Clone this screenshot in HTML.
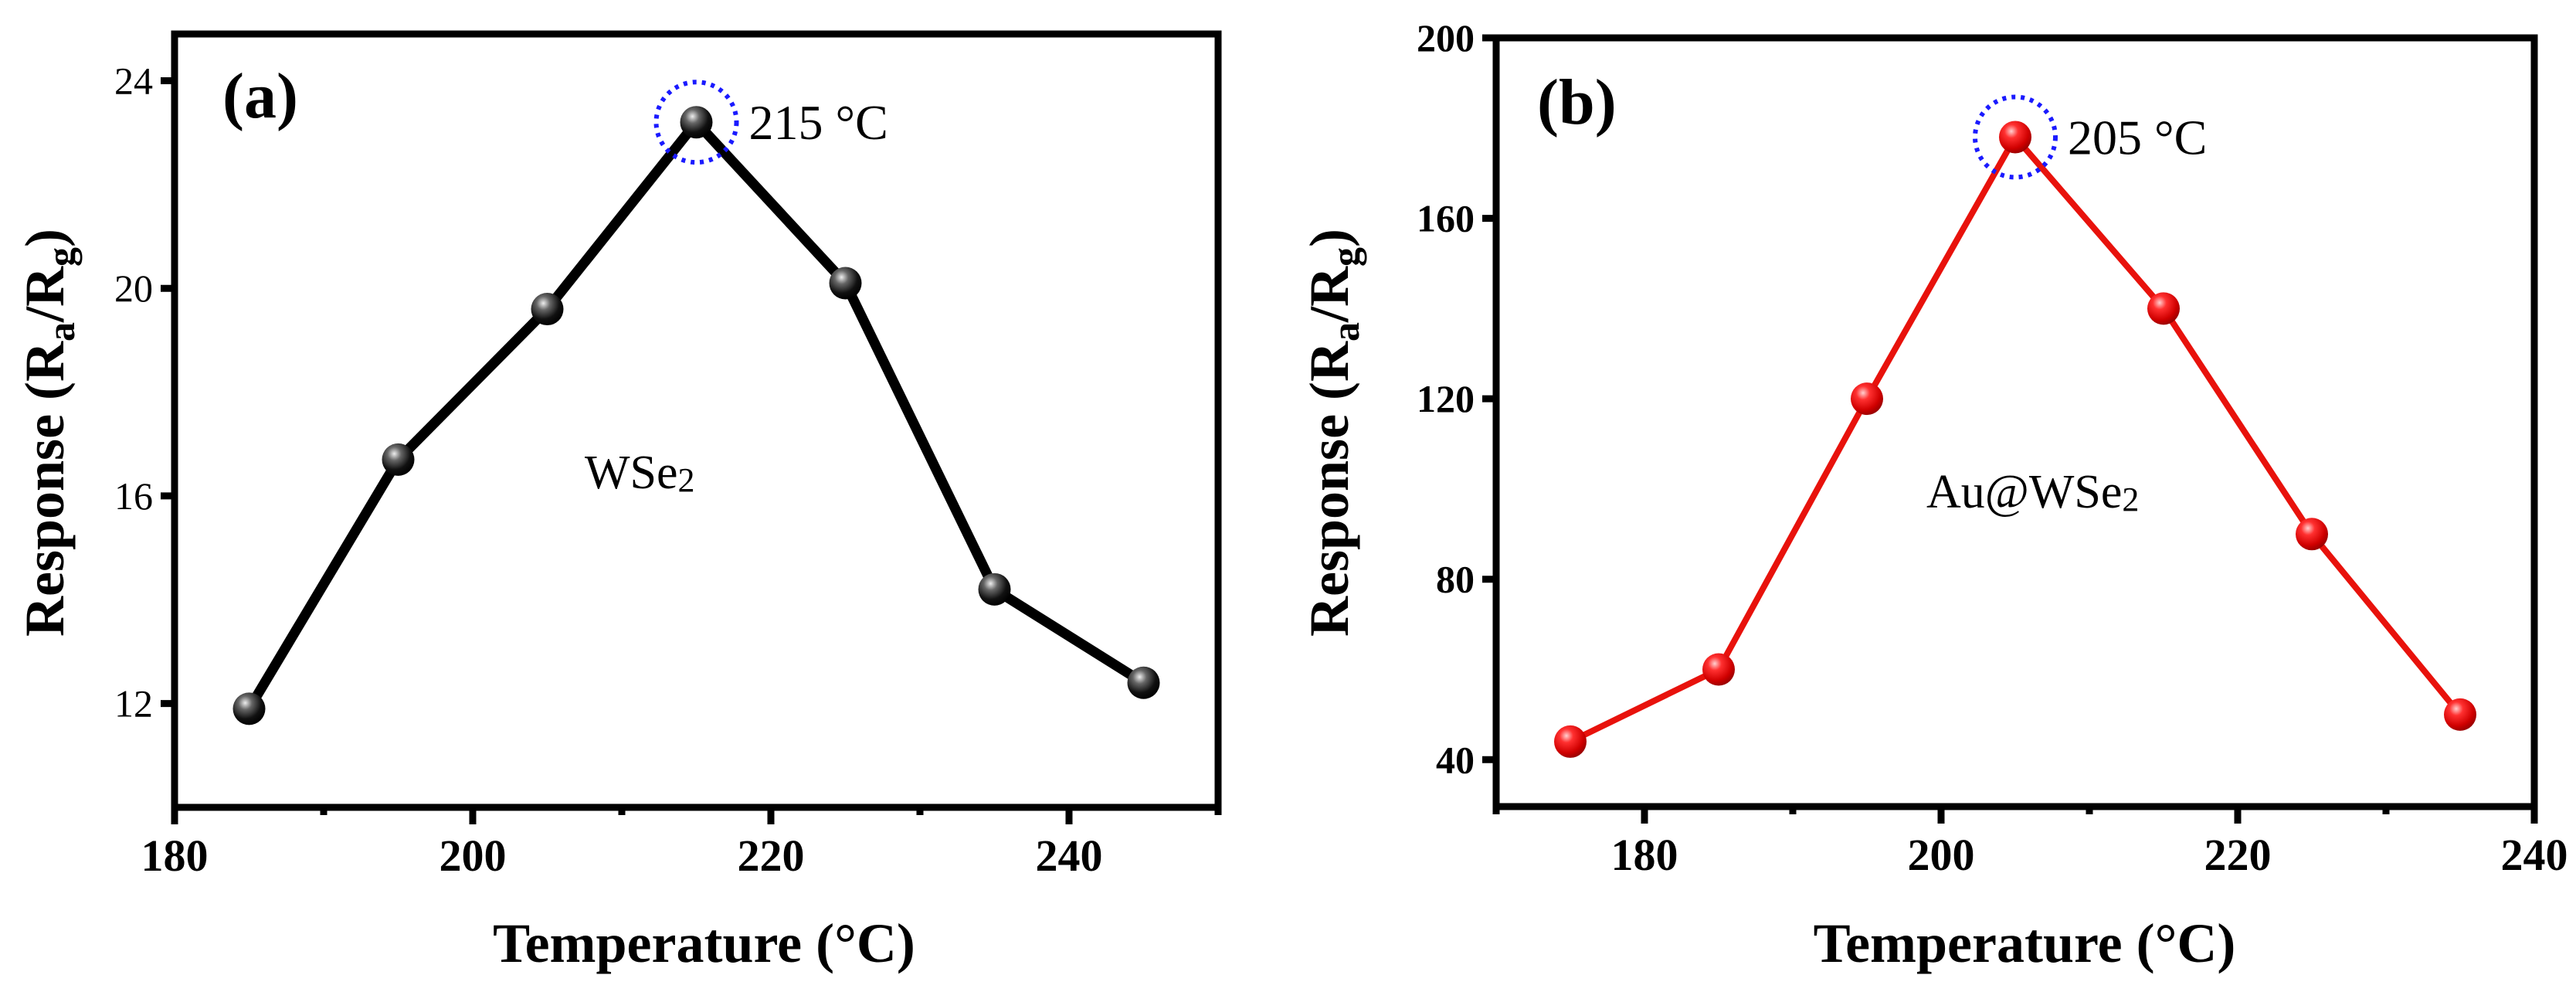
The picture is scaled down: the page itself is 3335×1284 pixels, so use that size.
<!DOCTYPE html>
<html><head><meta charset="utf-8"><style>
html,body{margin:0;padding:0;background:#fff;}
svg{display:block;font-family:"Liberation Serif",serif;}
</style></head><body>
<svg id="fig" width="3335" height="1284" viewBox="0 0 3335 1284">
<defs>
<radialGradient id="gBlack" cx="0.38" cy="0.32" r="0.7"><stop offset="0" stop-color="#eee"/><stop offset="0.3" stop-color="#666"/><stop offset="0.7" stop-color="#111"/><stop offset="1" stop-color="#000"/></radialGradient>
<radialGradient id="gRed" cx="0.38" cy="0.32" r="0.7"><stop offset="0" stop-color="#ffd0d0"/><stop offset="0.3" stop-color="#ff3030"/><stop offset="0.75" stop-color="#d00000"/><stop offset="1" stop-color="#900"/></radialGradient>
</defs>
</svg>
<script>
// Panel (a) data
const catsA = [185, 195, 205, 215, 225, 235, 245];
const valsA = [11.9, 16.7, 19.6, 23.2, 20.1, 14.2, 12.4];
const xTicksA = [180, 200, 220, 240];
const yTicksA = [12, 16, 20, 24];
// Panel (b) data
const catsB = [175, 185, 195, 205, 215, 225, 235];
const valsB = [44, 60, 120, 178, 140, 90, 50];
const xTicksB = [180, 200, 220, 240];
const yTicksB = [40, 80, 120, 160, 200];

const svg = document.getElementById('fig');
const NS = 'http://www.w3.org/2000/svg';
function mk(tag, attrs, parent){const e=document.createElementNS(NS,tag);for(const k in attrs)e.setAttribute(k,attrs[k]);(parent||svg).appendChild(e);return e;}

function panel(p){
  const g = mk('g',{});
  
  
  const xs = v => p.L + (v - p.xmin)/(p.xmax - p.xmin)*(p.R - p.L);
  const ys = v => p.B - (v - p.ymin)/(p.ymax - p.ymin)*(p.B - p.T);
  const fr = mk('rect',{x:p.L,y:p.T,width:p.R-p.L,height:p.B-p.T,fill:'none',stroke:'#000','stroke-width':9},g);
  
  
  for(let v=p.xmin; v<=p.xmax; v+=10){
    const major = (v % 20 === 0);
    const t = mk('line',{x1:xs(v),x2:xs(v),y1:p.B,y2:p.B+(major?22:10),stroke:'#000','stroke-width':9},g);
    
    
  }
  p.xt.forEach(v=>{
    const t = mk('text',{x:xs(v),y:p.B+82,'text-anchor':'middle','font-size':58,'font-weight':'bold'},g);
    t.textContent = v;
    
    
  });
  p.yt.forEach(v=>{
    const t = mk('line',{x1:p.L-18,x2:p.L,y1:ys(v),y2:ys(v),stroke:'#000','stroke-width':9},g);
    
    
    const l = mk('text',{x:p.L-28,y:ys(v)+17,'text-anchor':'end','font-size':50,'font-weight':p.ybold?'bold':'normal'},g);
    l.textContent = v;
    
    
  });
  const xt = mk('text',{x:(p.L+p.R)/2+p.xtOff,y:1245,'text-anchor':'middle','font-size':72,'font-weight':'bold'},g);
  xt.textContent = 'Temperature (°C)';
  
  
  const yt = mk('text',{x:0,y:0,'text-anchor':'middle','font-size':72,'font-weight':'bold',transform:`translate(${p.ytx},${p.yty}) rotate(-90)`},g);
  yt.innerHTML = 'Response (R<tspan font-size="50" dy="14">a</tspan><tspan dy="-14">/R</tspan><tspan font-size="50" dy="14">g</tspan><tspan dy="-14">)</tspan>';
  
  
  const pts = p.cats.map((c,i)=>xs(c)+','+ys(p.vals[i])).join(' ');
  const pl = mk('polyline',{points:pts,fill:'none',stroke:p.color,'stroke-width':p.lw,'stroke-linejoin':'round'},g);
  
  
  p.cats.forEach((c,i)=>{
    const m = mk('circle',{cx:xs(c),cy:ys(p.vals[i]),r:21,fill:p.grad},g);
    
    
  });
  let pi = 0; p.vals.forEach((v,i)=>{if(v>p.vals[pi])pi=i;});
  const pc = mk('circle',{cx:xs(p.cats[pi]),cy:ys(p.vals[pi]),r:52,fill:'none',stroke:'#1a1aff','stroke-width':6,'stroke-dasharray':'5 7'},g);
  
  
  const pt = mk('text',{x:xs(p.cats[pi])+68,y:ys(p.vals[pi])+22,'font-size':64},g);
  pt.textContent = p.cats[pi] + ' °C';
  
  
  const pl2 = mk('text',{x:p.labx,y:p.laby,'font-size':84,'font-weight':'bold'},g);
  pl2.textContent = p.panelLabel;
  
  
  const sl = mk('text',{x:p.sx,y:p.sy,'font-size':62},g);
  sl.innerHTML = p.sample + '<tspan font-size="44" dy="4">2</tspan>';
  
  
}

panel({name:'panel-a',L:226,R:1577,T:44,B:1045,xmin:180,xmax:250,ymin:10,ymax:24.9,
  cats:catsA,vals:valsA,xt:xTicksA,yt:yTicksA,color:'#000',grad:'url(#gBlack)',lw:13,ybold:false,
  ytx:82,yty:560,labx:288,laby:152,panelLabel:'(a)',sx:757,sy:632,sample:'WSe',xtOff:10});
panel({name:'panel-b',L:1937,R:3281,T:49,B:1044,xmin:170,xmax:240,ymin:29.6,ymax:200,
  cats:catsB,vals:valsB,xt:xTicksB,yt:yTicksB,color:'#e8120c',grad:'url(#gRed)',lw:8,ybold:true,
  ytx:1745,yty:560,labx:1990,laby:160,panelLabel:'(b)',sx:2494,sy:657,sample:'Au@WSe',xtOff:12});
</script>
</body></html>
